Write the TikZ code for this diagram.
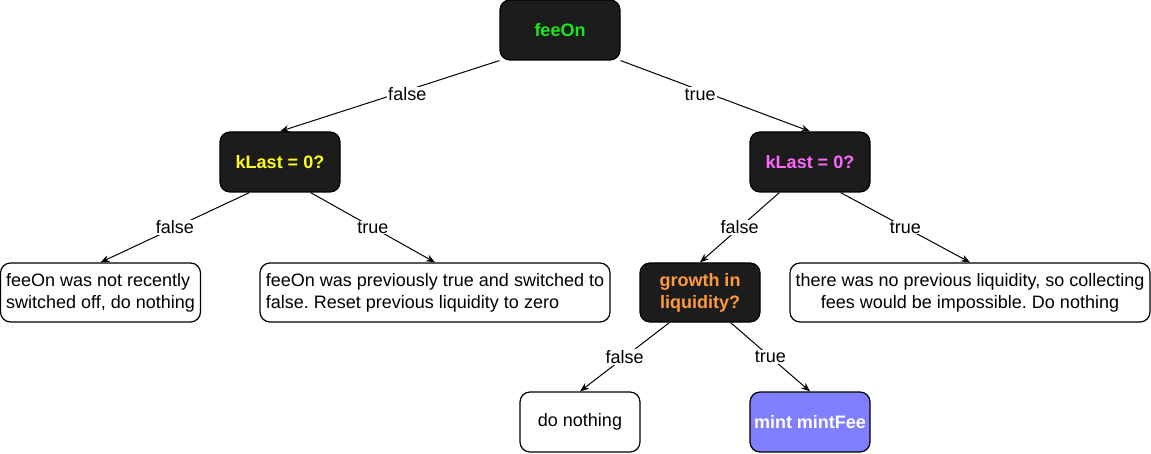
\documentclass[tikz,border=0pt]{standalone}
\usepackage{fontspec}
\setmainfont{Liberation Sans}
\usetikzlibrary{arrows.meta}
\definecolor{darkbox}{HTML}{1C1C1C}
\definecolor{feegreen}{HTML}{1EE61E}
\definecolor{kyellow}{HTML}{FFFF1A}
\definecolor{kpink}{HTML}{FF66FF}
\definecolor{gorange}{HTML}{FF9A3C}
\definecolor{mintblue}{HTML}{7F7FFF}
\tikzset{
  base/.style={rounded corners=10pt, line width=1.2pt, draw=black, font=\fontsize{18}{22}\selectfont\frenchspacing, inner sep=0pt},
  dec/.style={base, fill=darkbox, minimum width=120pt, minimum height=60pt, font=\fontsize{18}{22}\selectfont\bfseries, align=center},
  leaf/.style={base, fill=white, minimum height=59pt, align=center},
  conn/.style={line width=1pt, -{Stealth[length=9pt,width=7pt]}},
  lbl/.style={fill=white, inner sep=1pt, font=\fontsize{18}{22}\selectfont},
  mlbl/.style={lbl, midway}
}
\begin{document}
\begin{tikzpicture}[x=1pt,y=-1pt]
\useasboundingbox (0,0) rectangle (1151,454);
\node[dec, text=feegreen] (fee) at (560,30) {feeOn};
\node[dec, text=kyellow] (kl) at (280,162) {kLast = 0?};
\node[dec, text=kpink] (kr) at (810,162) {kLast = 0?};
\node[leaf, minimum width=200pt, align=left] (l1) at (100.5,292.5) {feeOn was not recently\\switched off, do nothing};
\node[leaf, minimum width=350pt, align=left] (l2) at (435,292.5) {feeOn was previously true and switched to\\false. Reset previous liquidity to zero};
\node[dec, minimum height=59pt, text=gorange] (gr) at (700,292.5) {growth in\\liquidity?};
\node[leaf, minimum width=360pt] (l3) at (970,292.5) {there was no previous liquidity, so collecting\\fees would be impossible. Do nothing};
\node[leaf, minimum width=120pt, minimum height=60pt] (dn) at (580,422) {do nothing};
\node[base, fill=mintblue, text=white, font=\fontsize{18}{22}\selectfont\bfseries, minimum width=120pt, minimum height=60pt] (mf) at (810,422) {mint mintFee};
\draw[conn] (fee.south west) -- (kl.north) node[lbl, pos=0.42, yshift=-4pt] {false};
\draw[conn] (fee.south east) -- (kr.north) node[lbl, pos=0.42, yshift=-4pt] {true};
\draw[conn] ([xshift=30pt]kl.south west) -- (l1.north) node[mlbl] {false};
\draw[conn] ([xshift=-30pt]kl.south east) -- (l2.north) node[mlbl] {true};
\draw[conn] ([xshift=30pt]kr.south west) -- (gr.north) node[mlbl] {false};
\draw[conn] ([xshift=-30pt]kr.south east) -- (l3.north) node[mlbl] {true};
\draw[conn] ([xshift=30pt]gr.south west) -- (dn.north) node[mlbl] {false};
\draw[conn] ([xshift=-30pt]gr.south east) -- (mf.north) node[mlbl] {true};
\end{tikzpicture}
\end{document}
